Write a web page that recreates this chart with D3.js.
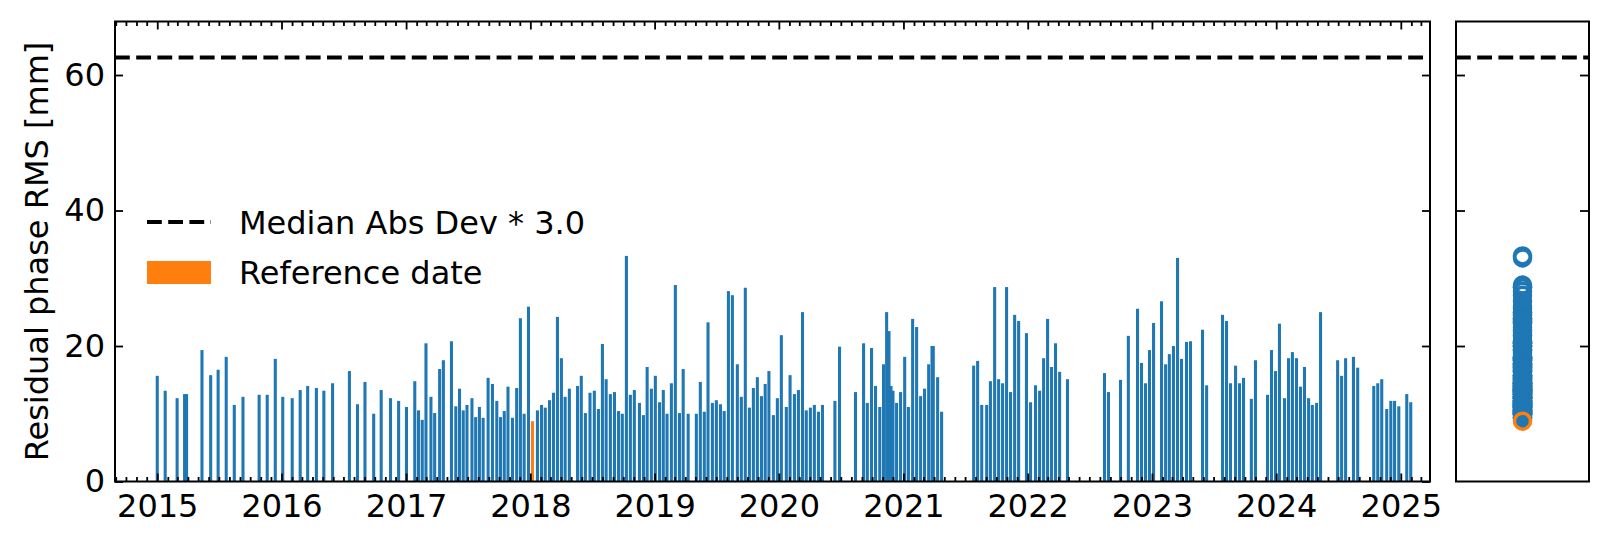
<!DOCTYPE html>
<html><head><meta charset="utf-8">
<script src="https://cdn.jsdelivr.net/npm/d3@7"></script>
<style>body{margin:0;background:#fff} svg{display:block} text{font-family:"DejaVu Sans",sans-serif;fill:#000}</style>
</head><body><svg id="c" width="1609" height="545"></svg>
<script>
// ---- data (dates as decimal years) ----
const dateYears = [
2015.000,2015.064,2015.160,2015.220,2015.236,2015.360,2015.430,2015.490,2015.555,2015.620,2015.690,2015.820,2015.885,2015.950,
2016.010,2016.086,2016.150,2016.210,2016.280,2016.340,2016.410,2016.545,2016.610,2016.670,2016.740,2016.800,2016.875,2016.940,
2017.003,2017.070,2017.100,2017.130,2017.160,2017.200,2017.230,2017.270,2017.300,2017.365,2017.400,2017.430,2017.460,2017.490,
2017.530,2017.560,2017.590,2017.620,2017.660,2017.695,2017.730,2017.760,2017.790,2017.820,2017.856,2017.890,2017.920,2017.950,2017.985,
2018.017,2018.057,2018.090,2018.120,2018.154,2018.186,2018.218,2018.250,2018.280,2018.314,2018.380,2018.410,2018.443,2018.480,
2018.515,2018.548,2018.580,2018.610,2018.644,2018.677,2018.710,2018.740,2018.773,2018.805,2018.837,2018.878,2018.910,2018.940,2018.974,
2019.006,2019.040,2019.070,2019.100,2019.135,2019.167,2019.200,2019.230,2019.270,2019.336,2019.368,2019.400,2019.430,2019.465,
2019.497,2019.530,2019.560,2019.594,2019.626,2019.666,2019.698,2019.730,2019.763,2019.795,2019.827,2019.860,2019.890,2019.920,2019.956,2019.988,
2020.020,2020.060,2020.090,2020.125,2020.157,2020.190,2020.220,2020.253,2020.285,2020.318,2020.350,2020.450,2020.487,
2020.615,2020.680,2020.710,2020.744,2020.776,2020.810,2020.840,2020.865,2020.884,2020.900,2020.916,2020.945,2020.977,
2021.010,2021.040,2021.074,2021.106,2021.138,2021.170,2021.203,2021.230,2021.240,2021.275,2021.307,
2021.565,2021.597,2021.630,2021.670,2021.700,2021.734,2021.766,2021.798,2021.830,2021.862,2021.895,2021.927,2021.990,
2022.023,2022.063,2022.096,2022.128,2022.160,2022.192,2022.224,2022.257,2022.320,
2022.618,2022.650,2022.747,2022.810,2022.884,2022.916,2022.948,2022.980,
2023.013,2023.077,2023.110,2023.140,2023.173,2023.206,2023.238,2023.278,2023.310,2023.407,2023.440,
2023.568,2023.600,2023.632,2023.673,2023.705,2023.737,2023.800,2023.833,2023.930,2023.962,2023.994,
2024.026,2024.067,2024.099,2024.130,2024.163,2024.195,2024.227,2024.260,2024.290,2024.324,2024.356,
2024.493,2024.525,2024.557,2024.620,2024.654,2024.783,2024.815,2024.847,2024.887,2024.920,2024.950,2024.984,
2025.048,2025.080
];
const rmsValues = [
15.6,13.4,12.3,12.9,12.9,19.4,15.7,16.5,18.4,11.3,12.5,12.8,12.8,18.1,
12.5,12.3,13.5,14.1,13.8,13.4,14.5,16.3,11.4,14.7,10.0,13.5,12.3,11.9,
11.0,14.8,10.5,9.1,20.4,12.5,10.1,16.6,17.9,20.7,11.1,13.7,10.5,11.3,
12.3,9.5,11.0,9.4,15.3,14.4,11.9,9.5,10.4,14.0,9.4,13.8,24.1,10.0,25.8,
8.9,10.5,11.3,10.9,12.0,13.1,24.3,18.2,12.5,13.7,14.1,15.6,10.1,13.1,
13.4,10.7,20.3,15.1,12.9,13.2,10.4,10.0,33.3,12.8,13.5,11.6,9.8,16.9,13.7,
15.6,11.7,13.5,10.0,14.5,29.0,10.1,16.6,10.0,10.0,14.7,10.3,23.5,11.6,
12.0,11.4,10.4,28.1,27.5,17.3,12.5,28.6,10.9,13.8,15.4,12.6,14.4,16.3,9.8,12.3,
21.6,11.0,15.7,12.9,13.5,25.0,10.5,10.9,11.3,10.3,11.3,11.9,19.9,
13.2,20.4,11.6,19.7,14.1,11.0,17.3,25.0,22.2,14.1,13.4,11.6,13.2,
18.4,11.0,24.0,22.8,12.6,13.7,17.3,20.0,20.0,15.4,10.3,
17.1,17.8,11.3,11.3,14.8,28.7,15.1,14.5,28.7,13.2,24.6,23.7,21.9,
11.7,14.2,13.4,18.2,24.0,16.9,20.4,16.2,15.1,
16.0,13.2,15.0,21.5,25.5,17.5,14.5,19.4,
23.4,26.6,17.3,18.8,20.0,33.0,18.1,20.6,20.7,22.4,14.2,
24.6,23.7,14.5,17.1,14.5,15.3,12.2,17.9,12.8,19.4,16.3,
23.3,12.3,18.2,19.1,18.2,14.0,16.9,12.3,11.3,11.6,25.0,
17.9,15.6,18.2,18.4,16.8,14.1,14.5,15.1,10.7,11.9,11.9,11.1,
12.9,11.7
];
const referenceYear = 2018.017;
const madThreshold = 62.6;
const yTickValues = [0, 20, 40, 60];
const yearLabels = [2015,2016,2017,2018,2019,2020,2021,2022,2023,2024,2025];
const legendLabels = ["Median Abs Dev * 3.0", "Reference date"];

// ---- helpers ----
function toDate(y){ const yr=Math.floor(y); const s=Date.UTC(yr,0,1), e=Date.UTC(yr+1,0,1); return new Date(s+(y-yr)*(e-s)); }
const BLUE="#1f77b4", ORANGE="#ff7f0e";
const FS = 32;

const svg = d3.select("#c");
const M = {l:115, r:1430, t:21.5, b:481.5};
const R = {l:1456, r:1589};

const x = d3.scaleUtc().domain([toDate(2014.66), toDate(2025.235)]).range([M.l, M.r]);
const y = d3.scaleLinear().domain([0, 67.9]).range([M.b, M.t]);

const data = dateYears.map((d,i)=>({date:toDate(d), v:rmsValues[i], ref: Math.abs(d-referenceYear)<1e-6}));
const dayMs = 86400000;
const halfW = (x(new Date(toDate(2020).getTime()+9*dayMs)) - x(toDate(2020)))/2;

// bars
svg.append("g").selectAll("rect").data(data).join("rect")
  .attr("x", d=>x(d.date)-halfW).attr("width", 2*halfW)
  .attr("y", d=>y(d.v)).attr("height", d=>y(0)-y(d.v))
  .attr("fill", d=>d.ref?ORANGE:BLUE);

// threshold lines
const dash = "14.8,6.4";
svg.append("line").attr("x1",M.l).attr("x2",M.r).attr("y1",y(madThreshold)).attr("y2",y(madThreshold))
  .attr("stroke","#000").attr("stroke-width",4).attr("stroke-dasharray",dash);
svg.append("line").attr("x1",R.l).attr("x2",R.r).attr("y1",y(madThreshold)).attr("y2",y(madThreshold))
  .attr("stroke","#000").attr("stroke-width",4).attr("stroke-dasharray",dash);

// axes helper styling
function style(g){ g.select(".domain").remove(); g.selectAll("line").attr("stroke","#000").attr("stroke-width",1.8);
  g.selectAll("text").attr("font-size",FS).attr("font-family","DejaVu Sans"); }

const majorT = yearLabels.map(yv=>new Date(Date.UTC(yv,0,1)));
const minorT = d3.utcMonth.range(x.domain()[0], x.domain()[1]).filter(d=>d.getUTCMonth()!==0);

svg.append("g").attr("transform",`translate(0,${M.b})`)
  .call(d3.axisBottom(x).tickValues(majorT).tickSize(-8).tickPadding(13).tickFormat(d3.utcFormat("%Y"))).call(style);
svg.append("g").attr("transform",`translate(0,${M.b})`)
  .call(d3.axisBottom(x).tickValues(minorT).tickSize(-4.5).tickFormat("")).call(style);
svg.append("g").attr("transform",`translate(0,${M.t})`)
  .call(d3.axisTop(x).tickValues(majorT).tickSize(-8).tickFormat("")).call(style);
svg.append("g").attr("transform",`translate(0,${M.t})`)
  .call(d3.axisTop(x).tickValues(minorT).tickSize(-4.5).tickFormat("")).call(style);

svg.append("g").attr("transform",`translate(${M.l},0)`)
  .call(d3.axisLeft(y).tickValues(yTickValues).tickSize(-8).tickPadding(10).tickFormat(d3.format("d"))).call(style);
svg.append("g").attr("transform",`translate(${M.r},0)`)
  .call(d3.axisRight(y).tickValues(yTickValues).tickSize(-8).tickFormat("")).call(style);

// right panel
svg.append("g").attr("transform",`translate(${R.l},0)`)
  .call(d3.axisLeft(y).tickValues(yTickValues.slice(1)).tickSize(-9).tickFormat("")).call(style);
svg.append("g").attr("transform",`translate(${R.r},0)`)
  .call(d3.axisRight(y).tickValues(yTickValues.slice(1)).tickSize(-9).tickFormat("")).call(style);

const xr = d3.scaleLinear().domain([-1,1]).range([R.l, R.r]);
svg.append("g").selectAll("circle").data(data.filter(d=>!d.ref)).join("circle")
  .attr("cx", xr(0)).attr("cy", d=>y(d.v)).attr("r",8)
  .attr("fill","none").attr("stroke",BLUE).attr("stroke-width",3.5);
svg.append("g").selectAll("circle").data(data.filter(d=>d.ref)).join("circle")
  .attr("cx", xr(0)).attr("cy", d=>y(d.v)).attr("r",8)
  .attr("fill","none").attr("stroke",ORANGE).attr("stroke-width",3.5);

// spines
svg.append("rect").attr("x",M.l).attr("y",M.t).attr("width",M.r-M.l).attr("height",M.b-M.t)
  .attr("fill","none").attr("stroke","#000").attr("stroke-width",2);
svg.append("rect").attr("x",R.l).attr("y",M.t).attr("width",R.r-R.l).attr("height",M.b-M.t)
  .attr("fill","none").attr("stroke","#000").attr("stroke-width",2);

// y label
svg.append("text").attr("transform",`translate(48,${(M.t+M.b)/2}) rotate(-90)`)
  .attr("text-anchor","middle").attr("font-size",FS).text("Residual phase RMS [mm]");

// legend
const lg = svg.append("g");
lg.append("line").attr("x1",147).attr("x2",211).attr("y1",222).attr("y2",222)
  .attr("stroke","#000").attr("stroke-width",4).attr("stroke-dasharray",dash);
lg.append("text").attr("x",239).attr("y",222).attr("dy","0.36em").attr("font-size",FS).text(legendLabels[0]);
lg.append("rect").attr("x",147).attr("y",261).attr("width",64).attr("height",23).attr("fill",ORANGE);
lg.append("text").attr("x",239).attr("y",272.5).attr("dy","0.36em").attr("font-size",FS).text(legendLabels[1]);
</script></body></html>
